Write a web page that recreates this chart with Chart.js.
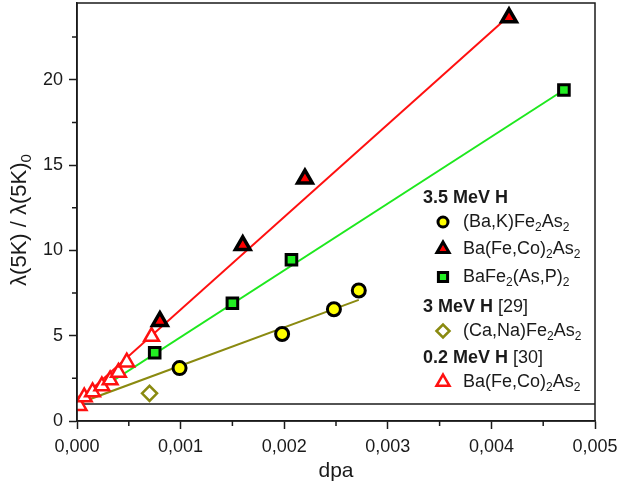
<!DOCTYPE html>
<html lang="en">
<head>
<meta charset="utf-8">
<title>lambda(5K) vs dpa</title>
<script src="https://cdn.jsdelivr.net/npm/chart.js@4.4.1/dist/chart.umd.min.js"></script>
<style>
  html, body { margin: 0; padding: 0; background: #fff; overflow: hidden; }
  /* Chart.js reserves room above the plot for the largest marker; the
     canvas is made 9px taller and pulled up so the frame sits near the top */
  #wrap { width: 624px; height: 503px; margin-top: -9px; }
</style>
</head>
<body>
<div id="wrap"><canvas id="myChart"></canvas></div>
<script>

// ---- data ----
// 3.5 MeV H
var bakDpa = [0.00099, 0.00198, 0.00248, 0.00272];          // (Ba,K)Fe2As2
var bakLam = [3.1, 5.1, 6.55, 7.65];
var bfcDpa = [0.0008, 0.0016, 0.0022, 0.00417];             // Ba(Fe,Co)2As2
var bfcLam = [5.85, 10.3, 14.2, 23.65];
var bfpDpa = [0.00075, 0.0015, 0.00207, 0.0047];            // BaFe2(As,P)2
var bfpLam = [4.0, 6.9, 9.45, 19.4];
// 3 MeV H [29]
var cnaDpa = [0.0007];                                      // (Ca,Na)Fe2As2
var cnaLam = [1.62];
// 0.2 MeV H [30]
var lowDpa = [0.00002, 0.00007, 0.00015, 0.00024, 0.00032, 0.0004, 0.00048, 0.00072];
var lowLam = [0.9, 1.4, 1.7, 2.05, 2.4, 2.85, 3.45, 4.95];

// linear fits (end points)
var redFitX = [0, 0.00418],   redFitY = [1.1, 23.8];
var greenFitX = [0, 0.0047],  greenFitY = [1.0, 19.4];
var oliveFitX = [0, 0.00272], oliveFitY = [1.0, 7.1];
var baseX = [0, 0.005],       baseY = [1, 1];

// axis ticks
var xMajor = [0, 0.001, 0.002, 0.003, 0.004, 0.005];
var xMinor = [0.0005, 0.0015, 0.0025, 0.0035, 0.0045];
var yMajor = [0, 5, 10, 15, 20];
var yMinor = [2.5, 7.5, 12.5, 17.5, 22.5];

var RED = '#ff1010', GREEN = '#1ee81e', OLIVE = '#8a8a10', INK = '#1a1a1a';
var FONT = '"Liberation Sans", Arial, sans-serif';
var SHIFT = 9;   // same as the css pull-up

function pts(xs, ys) {
  var out = [];
  for (var i = 0; i < xs.length; i++) out.push({x: xs[i], y: ys[i]});
  return out;
}

function lineSet(xs, ys, color, width) {
  return { data: pts(xs, ys), showLine: true, borderColor: color, borderWidth: width,
           pointRadius: 0, fill: false, order: 2 };
}

var sets = [
  lineSet(baseX, baseY, INK, 1.5),
  lineSet(oliveFitX, oliveFitY, OLIVE, 2),
  lineSet(greenFitX, greenFitY, GREEN, 2),
  lineSet(redFitX, redFitY, RED, 2),
  { data: pts(cnaDpa, cnaLam), pointStyle: 'rectRot', pointRadius: 7.5,
    backgroundColor: '#fff', borderColor: OLIVE, borderWidth: 2.5, order: 1 },
  { data: pts(lowDpa, lowLam), pointStyle: 'triangle', pointRadius: 8.5,
    backgroundColor: '#fff', borderColor: RED, borderWidth: 2.5, order: 1 },
  { data: pts(bakDpa, bakLam), pointStyle: 'circle', pointRadius: 6.5,
    backgroundColor: '#ffff00', borderColor: '#000', borderWidth: 3, order: 0 },
  { data: pts(bfpDpa, bfpLam), pointStyle: 'rect', pointRadius: 7.5,
    backgroundColor: '#22ee22', borderColor: '#000', borderWidth: 3, order: 0 },
  { data: pts(bfcDpa, bfcLam), pointStyle: 'triangle', pointRadius: 8.5,
    backgroundColor: '#ff0000', borderColor: '#000', borderWidth: 3.5, order: 0 }
];

// text with "_x" subscripts
function richWidth(ctx, str, size, bold) {
  var w = 0;
  for (var i = 0; i < str.length; i++) {
    if (str[i] === '_') { i++; ctx.font = Math.round(size * 0.66) + 'px ' + FONT; }
    else ctx.font = (bold ? 'bold ' : '') + size + 'px ' + FONT;
    w += ctx.measureText(str[i]).width;
  }
  return w;
}

function drawRich(ctx, str, x, y, size, bold) {
  ctx.textBaseline = 'middle';
  ctx.textAlign = 'left';
  for (var i = 0; i < str.length; i++) {
    var dy = 0;
    if (str[i] === '_') {
      i++;
      ctx.font = Math.round(size * 0.66) + 'px ' + FONT;
      dy = size * 0.32;
    } else {
      ctx.font = (bold ? 'bold ' : '') + size + 'px ' + FONT;
    }
    ctx.fillText(str[i], x, y + dy);
    x += ctx.measureText(str[i]).width;
  }
  return x;
}

function marker(ctx, style, r, fill, stroke, bw, x, y) {
  ctx.save();
  ctx.fillStyle = fill;
  ctx.strokeStyle = stroke;
  ctx.lineWidth = bw;
  Chart.helpers.drawPoint(ctx, {pointStyle: style, radius: r, rotation: 0, borderWidth: bw}, x, y);
  ctx.restore();
}

var legendRows = [
  {head: '3.5 MeV H', ref: ''},
  {label: '(Ba,K)Fe_2As_2', style: 'circle', r: 5, fill: '#ffff00', stroke: '#000', bw: 3},
  {label: 'Ba(Fe,Co)_2As_2', style: 'triangle', r: 7, fill: '#ff0000', stroke: '#000', bw: 3},
  {label: 'BaFe_2(As,P)_2', style: 'rect', r: 6.5, fill: '#22ee22', stroke: '#000', bw: 3},
  {head: '3 MeV H', ref: ' [29]'},
  {label: '(Ca,Na)Fe_2As_2', style: 'rectRot', r: 6.5, fill: '#fff', stroke: OLIVE, bw: 2.5},
  {head: '0.2 MeV H', ref: ' [30]'},
  {label: 'Ba(Fe,Co)_2As_2', style: 'triangle', r: 7.5, fill: '#fff', stroke: RED, bw: 2.5}
];
var legendY = [198, 222, 249, 277, 307, 331, 358, 382];

var decor = {
  id: 'decor',
  afterDraw: function(chart) {
    var ctx = chart.ctx, a = chart.chartArea;
    var xs = chart.scales.x, ys = chart.scales.y;
    ctx.save();
    // frame
    ctx.strokeStyle = INK;
    ctx.lineWidth = 1.5;
    ctx.strokeRect(a.left, a.top, a.right - a.left, a.bottom - a.top);
    // minor ticks
    ctx.beginPath();
    xMinor.forEach(function(v) {
      var px = xs.getPixelForValue(v);
      ctx.moveTo(px, a.bottom); ctx.lineTo(px, a.bottom + 5);
    });
    yMinor.forEach(function(v) {
      var py = ys.getPixelForValue(v);
      ctx.moveTo(a.left, py); ctx.lineTo(a.left - 5, py);
    });
    ctx.stroke();

    // y title with subscript
    ctx.fillStyle = INK;
    var ttl = '\u03bb(5K) / \u03bb(5K)_0';
    var tw = richWidth(ctx, ttl, 22, false);
    ctx.translate(20, (a.top + a.bottom) / 2 + 8);
    ctx.rotate(-Math.PI / 2);
    drawRich(ctx, ttl, -tw / 2, 0, 22, false);
    ctx.restore();

    // legend
    ctx.save();
    ctx.fillStyle = INK;
    legendRows.forEach(function(row, i) {
      var y = legendY[i] + SHIFT;
      if (row.head) {
        var x = drawRich(ctx, row.head, 423, y, 18, true);
        drawRich(ctx, row.ref, x, y, 18, false);
      } else {
        marker(ctx, row.style, row.r, row.fill, row.stroke, row.bw, 443, y);
        ctx.fillStyle = INK;
        drawRich(ctx, row.label, 463, y, 18, false);
      }
    });
    ctx.restore();
  }
};

new Chart(document.getElementById('myChart'), {
  type: 'scatter',
  data: { datasets: sets },
  options: {
    responsive: true,
    maintainAspectRatio: false,
    animation: false,
    layout: { padding: { top: 3, right: 29, left: 0, bottom: 0 } },
    plugins: { legend: { display: false }, tooltip: { enabled: false } },
    scales: {
      x: {
        type: 'linear', min: 0, max: 0.005,
        afterBuildTicks: function(s) { s.ticks = xMajor.map(function(v) { return {value: v}; }); },
        afterFit: function(s) { s.height = 73; s.paddingLeft = 0; s.paddingRight = 0; },
        grid: { drawOnChartArea: false, drawTicks: true, tickLength: 8, tickColor: INK, tickWidth: 1.5 },
        border: { display: true, color: INK, width: 1.5 },
        ticks: {
          color: INK, padding: 7, maxRotation: 0,
          font: { family: FONT, size: 18 },
          callback: function(v) { return Number(v).toFixed(3).replace('.', ','); }
        },
        title: { display: true, text: 'dpa', color: INK,
                 font: { family: FONT, size: 21 }, padding: { top: 0, bottom: 10 } }
      },
      y: {
        type: 'linear', min: 0, max: 24.5,
        afterBuildTicks: function(s) { s.ticks = yMajor.map(function(v) { return {value: v}; }); },
        afterFit: function(s) { s.width = 77; s.paddingTop = 0; s.paddingBottom = 0; },
        grid: { drawOnChartArea: false, drawTicks: true, tickLength: 8, tickColor: INK, tickWidth: 1.5 },
        border: { display: true, color: INK, width: 1.5 },
        ticks: {
          color: INK, padding: 6,
          font: { family: FONT, size: 18 },
          callback: function(v) { return String(v); }
        }
      }
    }
  },
  plugins: [decor]
});

</script>
</body>
</html>
